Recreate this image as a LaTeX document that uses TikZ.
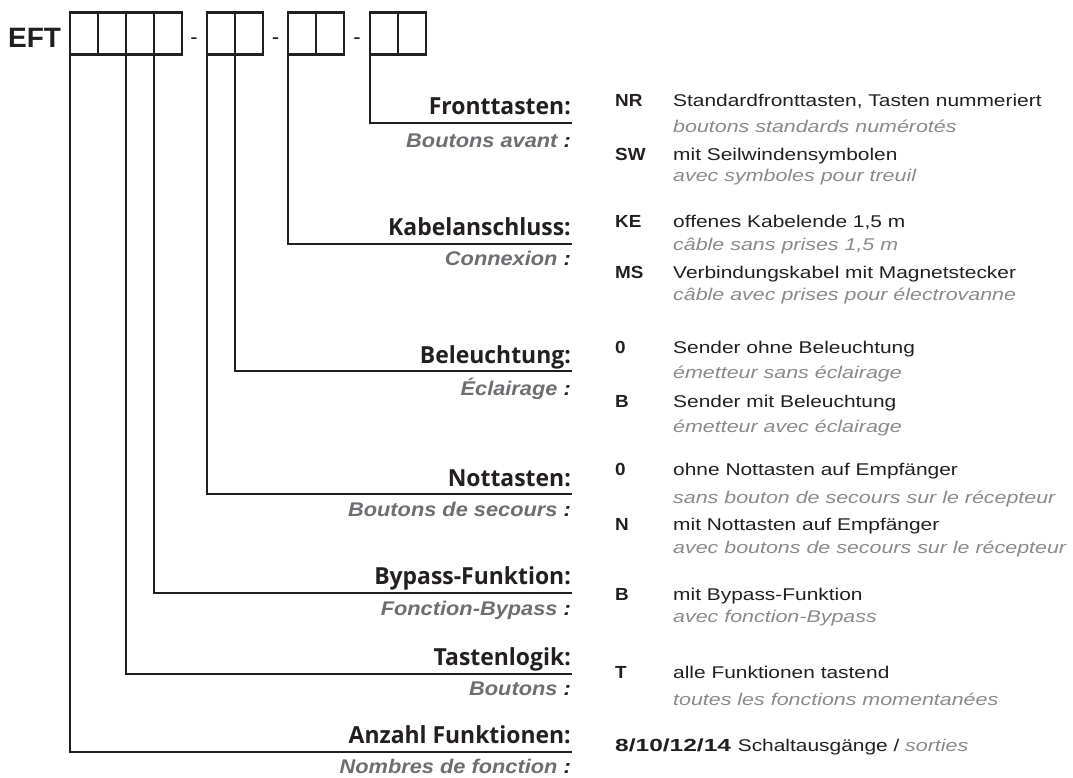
\documentclass[tikz,border=0pt]{standalone}
\usepackage{fontspec}
\setmainfont{Liberation Sans}
\newfontfamily\labelfont{Open Sans}[FakeStretch=0.975]
\newfontfamily\frfont{Liberation Sans}[FakeStretch=1.1]
\newfontfamily\widefont{Liberation Sans}[FakeStretch=1.23]
\newfontfamily\wideitfont{Liberation Sans}[FakeStretch=1.26]
\newfontfamily\codefont{Liberation Sans}[FakeStretch=1.08]
\newfontfamily\numfont{Liberation Sans}[FakeStretch=1.4]
\definecolor{ink}{HTML}{231F20}
\definecolor{frgray}{HTML}{6D6E71}
\definecolor{ltgray}{HTML}{8A8A8C}
\tikzset{
  cell/.style={draw=ink,line width=2.8pt,inner sep=0pt,outer sep=0pt,
    minimum width=28pt,minimum height=42.2pt},
  conn/.style={draw=ink,line width=2.2pt},
  delabel/.style={anchor=base east,inner sep=0pt,text=ink,
    font=\labelfont\bfseries\fontsize{23.5}{25}\selectfont},
  frlabel/.style={anchor=base east,inner sep=0pt,text=frgray,
    font=\frfont\bfseries\itshape\fontsize{19.8}{22}\selectfont},
  codetxt/.style={anchor=base west,inner sep=0pt,text=ink,
    font=\codefont\bfseries\fontsize{17.5}{20}\selectfont},
  desctxt/.style={anchor=base west,inner sep=0pt,text=ink,
    font=\widefont\fontsize{17}{19}\selectfont},
  transtxt/.style={anchor=base west,inner sep=0pt,text=ltgray,
    font=\wideitfont\itshape\fontsize{17}{19}\selectfont},
  sep/.style={anchor=base,inner sep=0pt,text=ink,font=\fontsize{22}{24}\selectfont}
}
\begin{document}
\begin{tikzpicture}[x=1pt,y=-1pt]
\useasboundingbox (0,0) rectangle (1073,778);

% type code header
\node[anchor=base west,inner sep=0pt,text=ink,font=\bfseries\fontsize{28}{30}\selectfont] (eft) at (8,48) {EFT};
\node[cell] (a1) at (84,33.4) {};
\node[cell] (a2) at (112,33.4) {};
\node[cell] (a3) at (140,33.4) {};
\node[cell] (a4) at (168,33.4) {};
\node[sep] (d1) at (194,44.6) {-};
\node[cell] (b1) at (221,33.4) {};
\node[cell] (b2) at (249,33.4) {};
\node[sep] (d2) at (275.5,44.6) {-};
\node[cell] (c1) at (302,33.4) {};
\node[cell] (c2) at (330,33.4) {};
\node[sep] (d3) at (357,44.6) {-};
\node[cell] (e1) at (384,33.4) {};
\node[cell] (e2) at (412,33.4) {};

% line ends under the labels
\coordinate (fEnd) at (572,123);
\coordinate (kEnd) at (572,244);
\coordinate (bEnd) at (572,371);
\coordinate (nEnd) at (572,494);
\coordinate (yEnd) at (572,593);
\coordinate (tEnd) at (572,674);
\coordinate (aEnd) at (572,752);

\draw[conn] (e1.south west) |- (fEnd);
\draw[conn] (c1.south west) |- (kEnd);
\draw[conn] (b2.south west) |- (bEnd);
\draw[conn] (b1.south west) |- (nEnd);
\draw[conn] (a4.south west) |- (yEnd);
\draw[conn] (a3.south west) |- (tEnd);
\draw[conn] (a1.south west) |- (aEnd);

% field names
\node[delabel] (fDe) at (571,115) {Fronttasten:};
\node[frlabel] (fFr) at (571,148) {Boutons avant \textcolor{ink}{:}};
\node[delabel] (kDe) at (571,236) {Kabelanschluss:};
\node[frlabel] (kFr) at (571,265) {Connexion \textcolor{ink}{:}};
\node[delabel] (bDe) at (571,363) {Beleuchtung:};
\node[frlabel] (bFr) at (571,395) {Éclairage \textcolor{ink}{:}};
\node[delabel] (nDe) at (571,486) {Nottasten:};
\node[frlabel] (nFr) at (571,516) {Boutons de secours \textcolor{ink}{:}};
\node[delabel] (yDe) at (571,584) {Bypass-Funktion:};
\node[frlabel] (yFr) at (571,615) {Fonction-Bypass \textcolor{ink}{:}};
\node[delabel] (tDe) at (571,665) {Tastenlogik:};
\node[frlabel] (tFr) at (571,695) {Boutons \textcolor{ink}{:}};
\node[delabel] (aDe) at (571,743) {Anzahl Funktionen:};
\node[frlabel] (aFr) at (571,773) {Nombres de fonction \textcolor{ink}{:}};

% options
\node[codetxt] (oNR) at (615,107) {NR};
\node[desctxt] (oNRd) at (673,107) {Standardfronttasten, Tasten nummeriert};
\node[transtxt] (oNRt) at (673,133) {boutons standards numérotés};
\node[codetxt] (oSW) at (615,161) {SW};
\node[desctxt] (oSWd) at (673,161) {mit Seilwindensymbolen};
\node[transtxt] (oSWt) at (673,182) {avec symboles pour treuil};

\node[codetxt] (oKE) at (615,227) {KE};
\node[desctxt] (oKEd) at (673,227) {offenes Kabelende 1,5 m};
\node[transtxt] (oKEt) at (673,250) {câble sans prises 1,5 m};
\node[codetxt] (oMS) at (615,278) {MS};
\node[desctxt] (oMSd) at (673,278) {Verbindungskabel mit Magnetstecker};
\node[transtxt] (oMSt) at (673,300) {câble avec prises pour électrovanne};

\node[codetxt] (oB0) at (615,353) {0};
\node[desctxt] (oB0d) at (673,353) {Sender ohne Beleuchtung};
\node[transtxt] (oB0t) at (673,378) {émetteur sans éclairage};
\node[codetxt] (oBB) at (615,407) {B};
\node[desctxt] (oBBd) at (673,407) {Sender mit Beleuchtung};
\node[transtxt] (oBBt) at (673,432) {émetteur avec éclairage};

\node[codetxt] (oN0) at (615,475) {0};
\node[desctxt] (oN0d) at (673,475) {ohne Nottasten auf Empfänger};
\node[transtxt] (oN0t) at (673,503) {sans bouton de secours sur le récepteur};
\node[codetxt] (oNN) at (615,530) {N};
\node[desctxt] (oNNd) at (673,530) {mit Nottasten auf Empfänger};
\node[transtxt] (oNNt) at (673,553) {avec boutons de secours sur le récepteur};

\node[codetxt] (oYB) at (615,600) {B};
\node[desctxt] (oYBd) at (673,600) {mit Bypass-Funktion};
\node[transtxt] (oYBt) at (673,622) {avec fonction-Bypass};

\node[codetxt] (oTT) at (615,678) {T};
\node[desctxt] (oTTd) at (673,678) {alle Funktionen tastend};
\node[transtxt] (oTTt) at (673,705) {toutes les fonctions momentanées};

\node[desctxt] (oA) at (615,751) {{\numfont\bfseries\fontsize{17.5}{20}\selectfont 8/10/12/14}\hspace{1pt} Schaltausgänge / \textcolor{ltgray}{\wideitfont\itshape sorties}};
\end{tikzpicture}
\end{document}
